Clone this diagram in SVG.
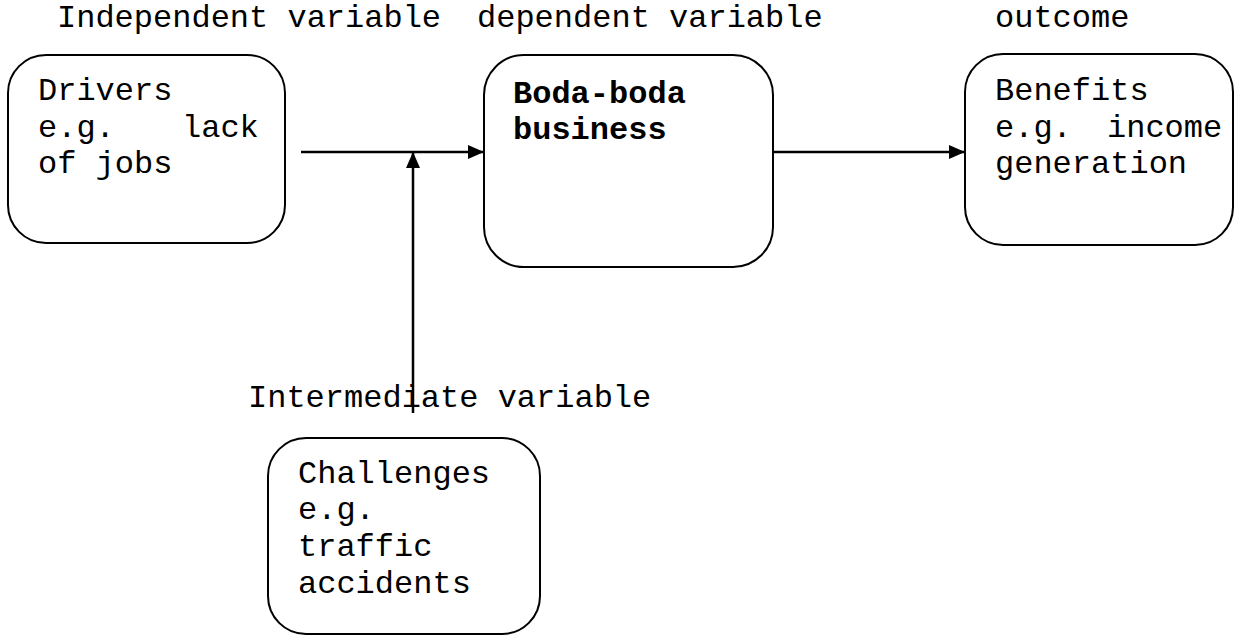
<svg xmlns="http://www.w3.org/2000/svg" width="1235" height="635" viewBox="0 0 1235 635">
  <style>
    .box { fill: #ffffff; stroke: #000000; stroke-width: 2; }
    .t { font-family: "Liberation Mono", "Courier New", monospace; font-size: 32px; fill: #000000; }
    .b { font-weight: bold; }
    .wire { stroke: #000000; stroke-width: 2.5; fill: none; }
  </style>
  <defs>
    <marker id="arrow" markerUnits="userSpaceOnUse" markerWidth="17" markerHeight="14" refX="16" refY="7" orient="auto">
      <path d="M0,0 L16,7 L0,14 Z" fill="#000000"/>
    </marker>
  </defs>
  <rect width="1235" height="635" fill="#ffffff"/>

  <!-- column headings -->
  <g id="labels">
    <text class="t" x="57" y="27">Independent variable</text>
    <text class="t" x="477" y="27">dependent variable</text>
    <text class="t" x="995" y="27">outcome</text>
    <text class="t" x="248" y="407">Intermediate variable</text>
  </g>

  <g id="drivers">
    <rect class="box" x="8" y="55" width="277" height="188" rx="38" ry="38"/>
    <text class="t" x="38" y="100">Drivers</text>
    <text class="t" x="38" y="137">e.g.</text>
    <text class="t" x="182" y="137">lack</text>
    <text class="t" x="38" y="173">of jobs</text>
  </g>

  <g id="business">
    <rect class="box" x="484" y="55" width="289" height="212" rx="40" ry="40"/>
    <text class="t b" x="513" y="103">Boda-boda</text>
    <text class="t b" x="513" y="139">business</text>
  </g>

  <g id="benefits">
    <rect class="box" x="965" y="54" width="268" height="191" rx="38" ry="38"/>
    <text class="t" x="995" y="100">Benefits</text>
    <text class="t" x="995" y="137">e.g.</text>
    <text class="t" x="1107" y="137">income</text>
    <text class="t" x="995" y="173">generation</text>
  </g>

  <g id="challenges">
    <rect class="box" x="268" y="438" width="272" height="196" rx="38" ry="38"/>
    <text class="t" x="298" y="483">Challenges</text>
    <text class="t" x="298" y="519">e.g.</text>
    <text class="t" x="298" y="556">traffic</text>
    <text class="t" x="298" y="593">accidents</text>
  </g>

  <g id="connectors">
    <line class="wire" x1="301" y1="152" x2="484" y2="152" marker-end="url(#arrow)"/>
    <line class="wire" x1="413" y1="413" x2="413" y2="152" marker-end="url(#arrow)"/>
    <line class="wire" x1="773" y1="152" x2="965" y2="152" marker-end="url(#arrow)"/>
  </g>
</svg>
